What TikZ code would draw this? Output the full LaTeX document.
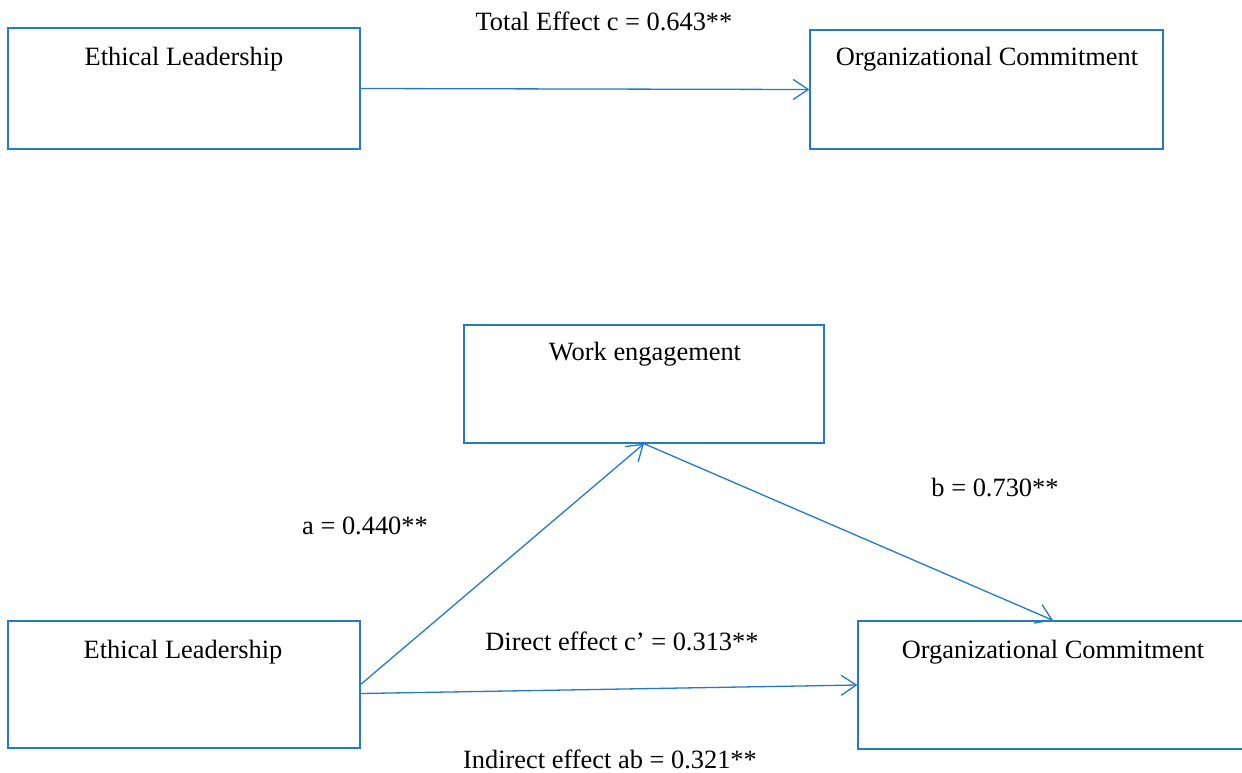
\documentclass[tikz,border=0pt]{standalone}
\usepackage{fontspec}
\setmainfont{Liberation Serif}
\usetikzlibrary{arrows.meta,calc}
\definecolor{lineblue}{RGB}{36,122,200}
\begin{document}
\begin{tikzpicture}[x=1pt,y=-1pt,
  box/.style={draw=lineblue,line width=1.3pt,rectangle,inner sep=0pt},
  lbl/.style={font=\fontsize{26.4}{30}\selectfont,inner sep=0pt,anchor=center},
  conn/.style={draw=lineblue,line width=1.3pt,-{Straight Barb[length=15pt,width=20pt,line width=1.3pt]}}]
\clip (0,0) rectangle (1242,772);
\fill[white] (0,0) rectangle (1242,772);
% top row
\node[box,minimum width=352pt,minimum height=121pt] (el1) at (184,88.5) {};
\node[box,minimum width=353pt,minimum height=119pt] (oc1) at (986.5,89.5) {};
\node[lbl] (tel1) at (184,59.5) {Ethical Leadership};
\node[lbl] (toc1) at (987,59.5) {Organizational Commitment};
\node[lbl] (ttot) at (604,21.5) {Total Effect c = 0.643**};
\draw[conn] (el1.east) -- (oc1.west);
% bottom
\node[box,minimum width=360pt,minimum height=118pt] (we) at (644,384) {};
\node[lbl] (twe) at (645,354) {Work engagement};
\node[box,minimum width=352pt,minimum height=127pt] (el2) at (184,684.5) {};
\node[lbl] (tel2) at (183,652.5) {Ethical Leadership};
\node[box,minimum width=390pt,minimum height=128pt] (oc2) at (1053,685) {};
\node[lbl] (toc2) at (1053,652.5) {Organizational Commitment};
\node[lbl] (ta) at (365,525.5) {a = 0.440**};
\node[lbl] (tb) at (995,487.5) {b = 0.730**};
\node[lbl] (tc) at (622,641) {Direct effect c’ = 0.313**};
\node[lbl] (tab) at (610,759) {Indirect effect ab = 0.321**};
\coordinate (dstart) at ($(el2.east)+(0,9)$);
\draw[conn] (el2.east) -- (we.south);
\draw[conn] (we.south) -- (oc2.north);
\draw[conn] (dstart) -- (oc2.west);
\end{tikzpicture}
\end{document}
